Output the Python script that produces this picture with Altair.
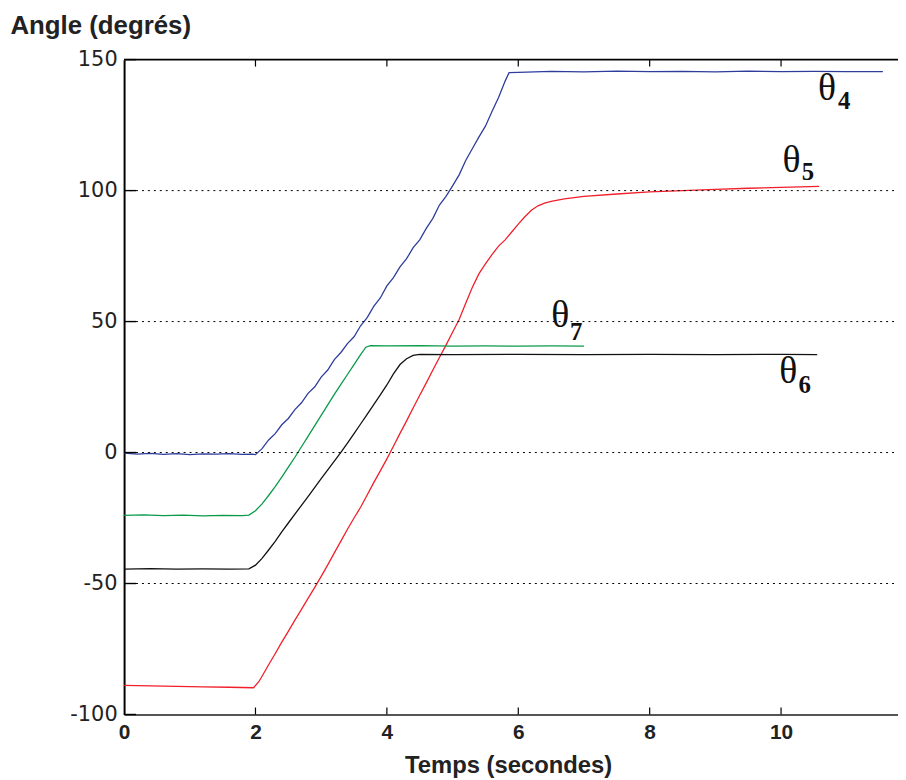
import altair as alt
import pandas as pd

# ---------------- data ----------------
t4 = [0, 0.2, 0.4, 0.6, 0.8, 1.0, 1.2, 1.4, 1.6, 1.8, 1.95, 2.0,
      2.1, 2.2, 2.3, 2.4, 2.5, 2.6, 2.7, 2.8, 2.9, 3.0, 3.1, 3.2, 3.3, 3.4, 3.5,
      3.6, 3.7, 3.8, 3.9, 4.0, 4.1, 4.2, 4.3, 4.4, 4.5, 4.6, 4.7, 4.8, 4.9, 5.0,
      5.1, 5.2, 5.3, 5.4, 5.5, 5.6, 5.7, 5.8, 5.86,
      6.0, 6.5, 7.0, 7.5, 8.0, 8.5, 9.0, 9.5, 10.0, 10.5, 11.0, 11.55]
v4 = [-0.2, -0.6, -0.3, -0.7, -0.4, -0.8, -0.5, -0.6, -0.4, -0.7, -0.6, -0.8,
      1.5, 4.8, 7.2, 10.6, 13.0, 16.4, 19.0, 22.6, 25.0, 28.8, 31.5, 35.5, 38.2, 41.6, 44.2,
      48.4, 51.5, 55.8, 59.0, 63.6, 66.8, 70.9, 74.0, 78.2, 81.2, 85.6, 89.4, 94.5, 97.8, 101.8,
      106.0, 111.5, 116.0, 120.4, 124.6, 130.2, 135.5, 141.8, 145.0,
      145.1, 145.5, 145.3, 145.6, 145.4, 145.5, 145.3, 145.6, 145.4, 145.5, 145.4, 145.4]

t5 = [0, 0.4, 0.8, 1.2, 1.6, 1.97, 2.05, 2.1, 2.2, 2.3, 2.4, 2.5, 2.6, 2.7, 2.8, 2.9,
      3.0, 3.1, 3.2, 3.3, 3.4, 3.5, 3.6, 3.7, 3.8, 3.9, 4.0, 4.1, 4.2, 4.3, 4.4, 4.5,
      4.6, 4.7, 4.8, 4.9, 5.0, 5.1, 5.2, 5.3, 5.4, 5.5, 5.6, 5.7, 5.8, 5.9, 6.0, 6.1,
      6.2, 6.3, 6.4, 6.5, 6.7, 7.0, 7.5, 8.0, 8.5, 9.0, 9.5, 10.0, 10.58]
v5 = [-88.9, -89.1, -89.3, -89.5, -89.6, -89.8, -87.5, -85.4, -81.0, -76.8, -72.4, -68.3,
      -64.0, -59.9, -55.7, -51.6, -47.3, -42.9, -38.3, -33.8, -29.3, -25.0, -20.9, -16.2,
      -11.5, -7.0, -2.4, 2.4, 7.3, 12.1, 17.0, 21.9, 26.6, 31.5, 36.3, 41.0, 45.9, 50.8,
      57.0, 63.0, 68.2, 72.0, 75.6, 78.8, 81.2, 84.2, 87.2, 90.0, 92.5, 94.2, 95.2, 95.9,
      96.8, 97.8, 98.7, 99.5, 100.0, 100.5, 100.9, 101.2, 101.6]

t6 = [0, 0.4, 0.8, 1.2, 1.6, 1.9, 2.0, 2.1, 2.2, 2.3, 2.4, 2.5, 2.6, 2.7, 2.8, 2.9,
      3.0, 3.1, 3.2, 3.3, 3.4, 3.5, 3.6, 3.7, 3.8, 3.9, 4.0, 4.1, 4.2, 4.3, 4.4, 4.5,
      5.0, 6.0, 7.0, 8.0, 9.0, 10.0, 10.55]
v6 = [-44.5, -44.3, -44.5, -44.4, -44.5, -44.4, -43.0, -40.4, -37.2, -33.9, -30.3, -26.9,
      -23.5, -20.2, -16.8, -13.4, -10.0, -6.6, -3.3, 0.1, 3.6, 7.2, 10.9, 14.6, 18.3, 22.0,
      25.8, 30.0, 33.6, 35.8, 37.1, 37.5, 37.4, 37.5, 37.4, 37.5, 37.4, 37.5, 37.4]

t7 = [0, 0.3, 0.6, 0.9, 1.2, 1.5, 1.8, 1.9, 2.0, 2.1, 2.2, 2.3, 2.4, 2.5, 2.6, 2.7, 2.8,
      2.9, 3.0, 3.1, 3.2, 3.3, 3.4, 3.5, 3.6, 3.68, 3.75, 4.0, 4.5, 5.0, 5.5, 6.0, 6.5, 7.0]
v7 = [-24.0, -23.8, -24.1, -23.9, -24.2, -24.0, -24.1, -23.9, -22.2, -19.6, -16.4, -13.0,
      -9.4, -5.6, -1.8, 2.2, 6.2, 10.2, 14.2, 18.2, 22.2, 26.0, 29.8, 33.6, 37.4, 40.2,
      40.8, 40.7, 40.8, 40.6, 40.7, 40.6, 40.7, 40.6]

series_names = ["θ4", "θ5", "θ6", "θ7"]
series_colors = ["#2e3d9c", "#f0202a", "#111111", "#0a9a4a"]

grid_values = [-50, 0, 50, 100]
x_tick_values = [0, 2, 4, 6, 8, 10]
y_tick_values = [-100, -50, 0, 50, 100, 150]

label_theta_t = [10.70, 10.16, 10.11, 6.64]
label_theta_v = [138.8, 111.2, 30.7, 52.0]
label_sub_text = ["4", "5", "6", "7"]
label_sub_t = [10.96, 10.41, 10.36, 6.88]
label_sub_v = [134.3, 107.0, 25.8, 46.1]

# ---------------- tables ----------------
frames = []
for name, tt, vv in zip(series_names, [t4, t5, t6, t7], [v4, v5, v6, v7]):
    frames.append(pd.DataFrame({"t": tt, "v": vv, "series": name, "i": range(len(tt))}))
lines_df = pd.concat(frames, ignore_index=True)
grid_df = pd.DataFrame({"v": grid_values})
xt_df = pd.DataFrame({"t": x_tick_values[1:]})
yt_df = pd.DataFrame({"v": y_tick_values})
theta_df = pd.DataFrame({"t": label_theta_t, "v": label_theta_v, "txt": ["θ"] * 4})
sub_df = pd.DataFrame({"t": label_sub_t, "v": label_sub_v, "txt": label_sub_text})

W, H = 780, 660
xscale = alt.Scale(domain=[0, 11.78], nice=False, zero=False)
yscale = alt.Scale(domain=[-100, 150], nice=False, zero=False)

xaxis = alt.Axis(values=x_tick_values, title="Temps (secondes)", ticks=False, tickSize=0,
                 grid=False, domainColor="#555555", domainWidth=2, labelFlush=False,
                 labelFont="Liberation Sans", labelFontWeight="bold", labelFontSize=21,
                 labelColor="#222222", labelPadding=7,
                 titleFont="Liberation Sans", titleFontWeight="bold", titleFontSize=24,
                 titleColor="#222222", titlePadding=11, titleX=387)
yaxis = alt.Axis(values=y_tick_values, title="Angle (degrés)", ticks=False, tickSize=0,
                 grid=False, domainColor="#000000", domainWidth=2, labelFlush=False,
                 labelFont="DejaVu Sans", labelFontSize=21, labelColor="#222222",
                 labelPadding=7, labelExpr="'' + datum.value",
                 titleFont="Liberation Sans", titleFontWeight="bold", titleFontSize=26,
                 titleColor="#222222", titleAngle=0, titleAlign="left",
                 titleBaseline="alphabetic", titleX=-115, titleY=-26)

X = alt.X("t:Q", scale=xscale, axis=xaxis)
Y = alt.Y("v:Q", scale=yscale, axis=yaxis)

lines = alt.Chart(lines_df).mark_line(strokeWidth=1.3, clip=True).encode(
    x=X, y=Y,
    color=alt.Color("series:N", scale=alt.Scale(domain=series_names, range=series_colors), legend=None),
    order="i:Q",
)

grid = alt.Chart(grid_df).mark_rule(color="#000000", strokeDash=[2, 4], strokeWidth=1).encode(
    y=Y, x=alt.value(0), x2=alt.value(W),
)

bottom_ticks = alt.Chart(xt_df).mark_rule(color="#000000", strokeWidth=1.2).encode(
    x=X, y=alt.value(H), y2=alt.value(H - 7))
top_ticks = alt.Chart(xt_df).mark_rule(color="#000000", strokeWidth=1.2).encode(
    x=X, y=alt.value(0), y2=alt.value(7))
left_ticks = alt.Chart(yt_df).mark_rule(color="#000000", strokeWidth=1.4).encode(
    y=Y, x=alt.value(0), x2=alt.value(12))
top_border = alt.Chart(grid_df.head(1)).mark_rule(color="#000000", strokeWidth=2).encode(
    y=alt.value(0), x=alt.value(0), x2=alt.value(W))

theta_text = alt.Chart(theta_df).mark_text(font="Liberation Serif", fontSize=38,
                                           color="#111111", align="center", baseline="middle").encode(
    x=X, y=Y, text="txt:N")
sub_text = alt.Chart(sub_df).mark_text(font="Liberation Serif", fontSize=25, fontWeight="bold",
                                       color="#111111", align="center", baseline="middle").encode(
    x=X, y=Y, text="txt:N")

chart = alt.layer(lines, grid, bottom_ticks, top_ticks, left_ticks, top_border, theta_text, sub_text).properties(
    width=W, height=H,
    autosize=alt.AutoSizeParams(type="none"),
    padding={"left": 117, "top": 49, "right": 0, "bottom": 63},
    background="white",
).configure_view(stroke=None)

chart.save("out.html", embed_options={"renderer": "svg", "actions": False})
